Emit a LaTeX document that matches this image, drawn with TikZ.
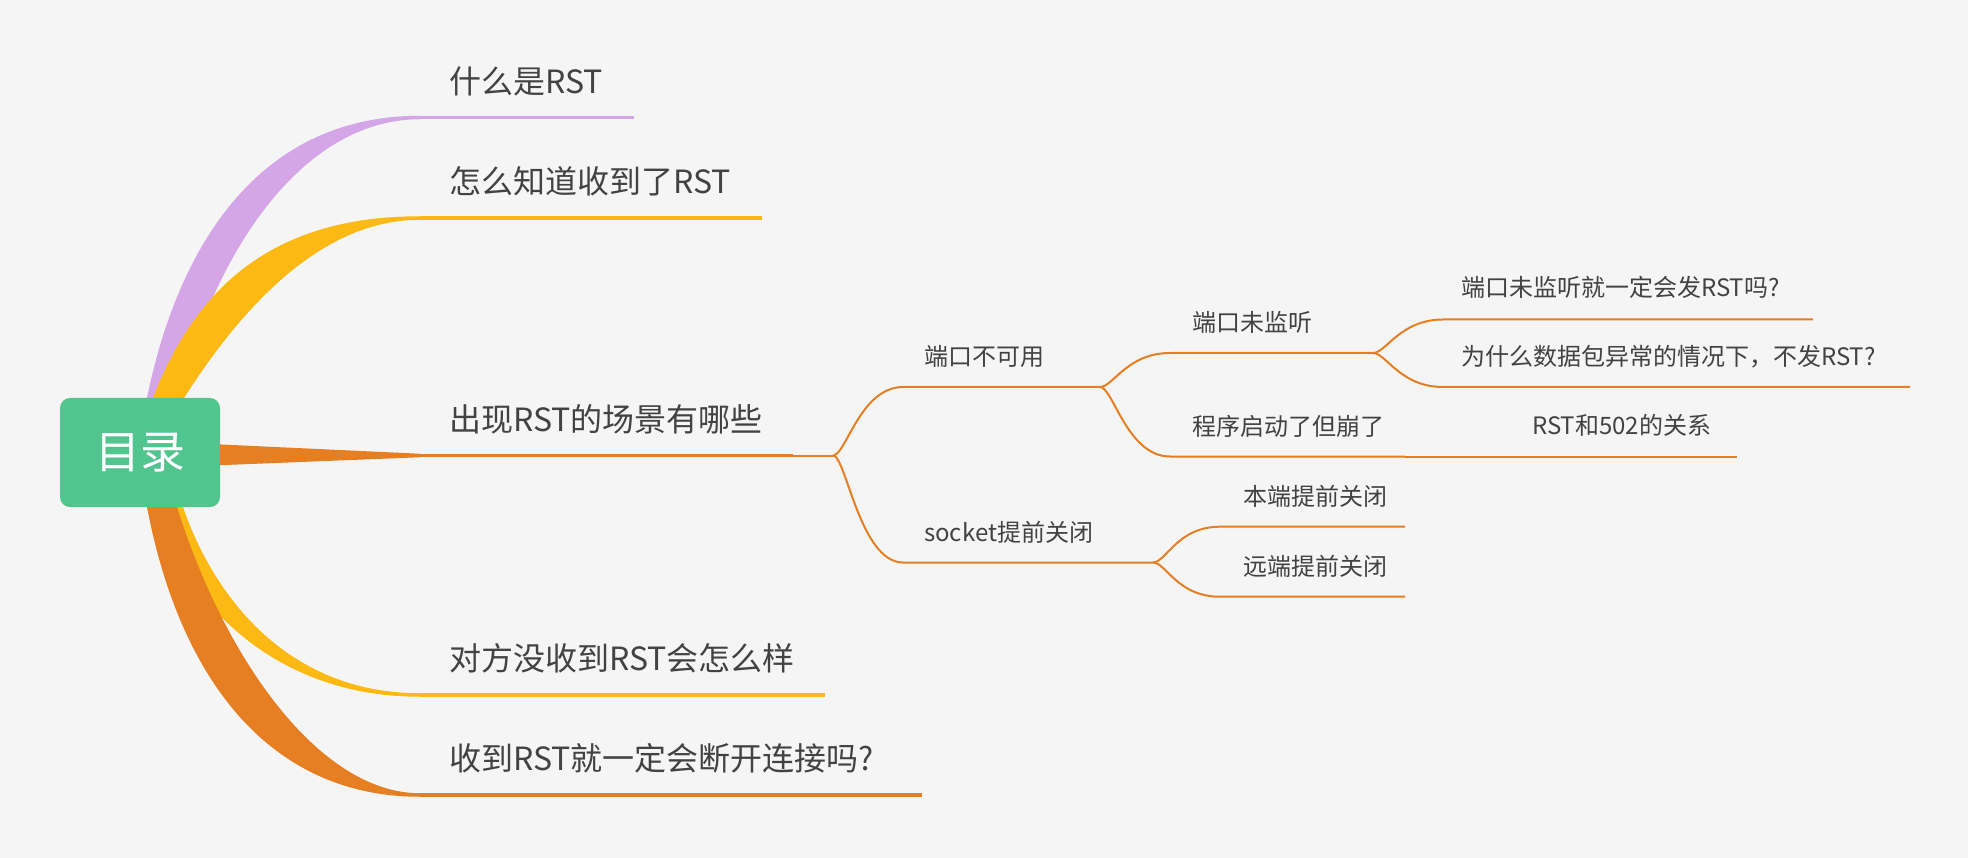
\documentclass[tikz,border=0pt]{standalone}
\usepackage{fontspec}
\newfontfamily\cjk{Noto Sans CJK SC}
\definecolor{bg}{RGB}{245,245,245}
\definecolor{rootgreen}{RGB}{82,196,142}
\definecolor{cpurple}{RGB}{212,166,232}
\definecolor{cyellow}{RGB}{253,185,19}
\definecolor{corange}{RGB}{230,126,34}
\definecolor{txt}{RGB}{66,66,66}
\begin{document}
\begin{tikzpicture}[x=1pt,y=-1pt,
  maintext/.style={anchor=west,inner sep=0pt,text=txt,font=\cjk\fontsize{32}{38}\selectfont,text height=0.83em,text depth=0.07em},
  subtext/.style={anchor=west,inner sep=0pt,text=txt,font=\cjk\fontsize{24}{29}\selectfont,text height=0.83em,text depth=0.07em},
  rootbox/.style={fill=rootgreen,rounded corners=10pt,minimum width=160pt,minimum height=109pt,inner sep=0pt,text=white,font=\cjk\fontsize{45}{54}\selectfont},
  mainline/.style={line width=3.5pt},
  subline/.style={line width=2pt,draw=corange},
  fork/.style={to path={.. controls +(13,0) and +(-43,0) .. (\tikztotarget)}}
]
\useasboundingbox (0,0) rectangle (1968,858);
\fill[bg] (0,0) rectangle (1968,858);

% coordinates of main branch lines
\coordinate (m1a) at (420,117.5); \coordinate (m1b) at (634,117.5);
\coordinate (m2a) at (420,218);   \coordinate (m2b) at (762,218);
\coordinate (m3a) at (420,455.5); \coordinate (m3b) at (793,455.5);
\coordinate (m4a) at (420,695);   \coordinate (m4b) at (825,695);
\coordinate (m5a) at (420,795);   \coordinate (m5b) at (922,795);

% tapered branches from the root
\fill[cpurple] (144,420) -- (147,398) .. controls (175,260) and (250,115.75) .. (420,115.75)
  -- (420,119.25) .. controls (290,119.25) and (205,280) .. (180,398) -- (176,420) -- cycle;
\fill[cyellow] (150,420) -- (153,398) .. controls (195,290) and (270,216.25) .. (420,216.25)
  -- (420,219.75) .. controls (320,219.75) and (240,310) .. (184,398) -- (180,420) -- cycle;
\fill[corange] (200,443.5) -- (420,453.75) -- (420,457.25) -- (200,466) -- cycle;
\fill[cyellow] (150,490) -- (153,507) .. controls (190,610) and (280,696.75) .. (420,696.75)
  -- (420,693.25) .. controls (290,693.25) and (215,600) .. (183,507) -- (180,490) -- cycle;
\fill[corange] (144,490) -- (147,507) .. controls (180,680) and (270,796.75) .. (420,796.75)
  -- (420,793.25) .. controls (320,793.25) and (225,660) .. (177,507) -- (174,490) -- cycle;

\draw[mainline,cpurple] (m1a) -- (m1b);
\draw[mainline,cyellow] (m2a) -- (m2b);
\draw[mainline,corange] (m3a) -- (m3b);
\draw[mainline,cyellow] (m4a) -- (m4b);
\draw[mainline,corange] (m5a) -- (m5b);

\node[rootbox] (root) at (140,452.5) {目录};

\node[maintext] (t1) at (449,89.5) {什么是RST};
\node[maintext] (t2) at (449,190) {怎么知道收到了RST};
\node[maintext] (t3) at (449,428) {出现RST的场景有哪些};
\node[maintext] (t4) at (449,667) {对方没收到RST会怎么样};
\node[maintext] (t5) at (449,767) {收到RST就一定会断开连接吗?};

% sub-branch coordinates
\coordinate (j1) at (833,455.5);
\coordinate (s1a) at (903,387);    \coordinate (j2) at (1100,387);
\coordinate (s2a) at (903,562.5);  \coordinate (j3) at (1153,562.5);
\coordinate (s11a) at (1170,353);  \coordinate (j4) at (1373,353);
\coordinate (s12a) at (1170,456.5);\coordinate (j5) at (1405,456.5);
\coordinate (s121a) at (1510,456.5);\coordinate (s121b) at (1737,456.5);
\coordinate (s111a) at (1443,319.5);\coordinate (s111b) at (1813,319.5);
\coordinate (s112a) at (1443,387); \coordinate (s112b) at (1910,387);
\coordinate (s21a) at (1220,526.7);\coordinate (s21b) at (1405,526.7);
\coordinate (s22a) at (1220,596.7);\coordinate (s22b) at (1405,596.7);

\draw[subline] (m3b) -- (j1);
\draw[subline] (j1) to[fork] (s1a) -- (j2);
\draw[subline] (j1) to[fork] (s2a) -- (j3);
\draw[subline] (j2) to[fork] (s11a) -- (j4);
\draw[subline] (j2) to[fork] (s12a) -- (j5);
\draw[subline] (j5) -- (s121a) -- (s121b);
\draw[subline] (j4) to[fork] (s111a) -- (s111b);
\draw[subline] (j4) to[fork] (s112a) -- (s112b);
\draw[subline] (j3) to[fork] (s21a) -- (s21b);
\draw[subline] (j3) to[fork] (s22a) -- (s22b);

\node[subtext] (n1) at (924,362) {端口不可用};
\node[subtext] (n2) at (924,537.5) {socket提前关闭};
\node[subtext] (n11) at (1192,328) {端口未监听};
\node[subtext] (n12) at (1192,431.5) {程序启动了但崩了};
\node[subtext] (n121) at (1532,430.5) {RST和502的关系};
\node[subtext] (n111) at (1461,293) {端口未监听就一定会发RST吗?};
\node[subtext] (n112) at (1461,362) {为什么数据包异常的情况下，不发RST?};
\node[subtext] (n21) at (1243,502) {本端提前关闭};
\node[subtext] (n22) at (1243,572) {远端提前关闭};
\end{tikzpicture}
\end{document}
